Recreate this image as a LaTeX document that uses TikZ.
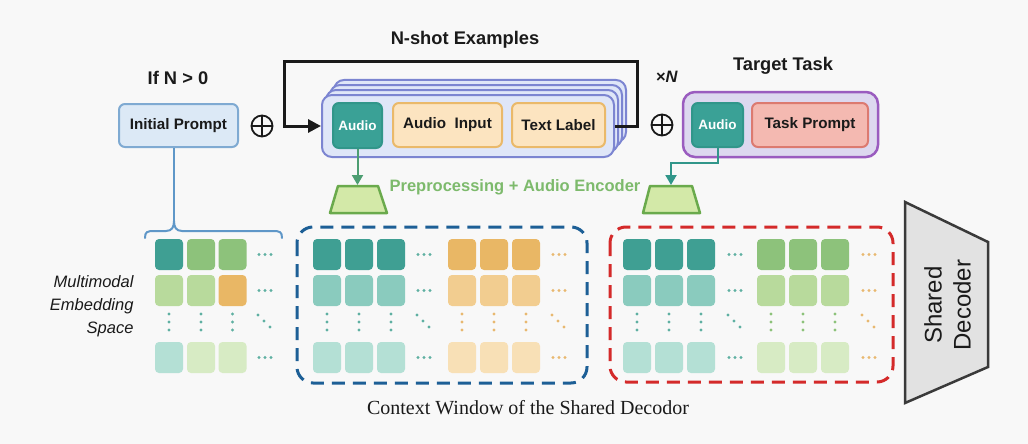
\documentclass[tikz,border=0pt]{standalone}
\usepackage{fontspec}
\setmainfont{Liberation Sans}
\newfontfamily\serifont{Liberation Serif}
\usetikzlibrary{arrows.meta}
\definecolor{bgc}{HTML}{F8F8F8}
\definecolor{ipfill}{HTML}{DCE9F6}
\definecolor{ipdraw}{HTML}{7FAAD2}
\definecolor{stfill}{HTML}{DFE6F8}
\definecolor{stdraw}{HTML}{7C85D1}
\definecolor{teal}{HTML}{3AA196}
\definecolor{tealdraw}{HTML}{31968A}
\definecolor{orfill}{HTML}{FCE4C0}
\definecolor{ordraw}{HTML}{EAB96A}
\definecolor{tgfill}{HTML}{DDD8EF}
\definecolor{tgdraw}{HTML}{9A5CBF}
\definecolor{tpfill}{HTML}{F4B9B1}
\definecolor{tpdraw}{HTML}{DC7A70}
\definecolor{encfill}{HTML}{D3E9A8}
\definecolor{encdraw}{HTML}{6AAA4C}
\definecolor{encarrow}{HTML}{4D9E72}
\definecolor{enctext}{HTML}{7DBA6C}
\definecolor{bracec}{HTML}{5F97C8}
\definecolor{bluedash}{HTML}{1D5F96}
\definecolor{reddash}{HTML}{D42A2A}
\definecolor{tA}{HTML}{3F9F93}
\definecolor{tB}{HTML}{8ACBBE}
\definecolor{tC}{HTML}{B4E0D5}
\definecolor{oA}{HTML}{E9B765}
\definecolor{oB}{HTML}{F2CD90}
\definecolor{oC}{HTML}{F8E0B6}
\definecolor{gA}{HTML}{8DC27B}
\definecolor{gB}{HTML}{B8DA9C}
\definecolor{gC}{HTML}{D7EBC4}
\definecolor{tdot}{HTML}{5FB0A2}
\definecolor{odot}{HTML}{E8B870}
\definecolor{gdot}{HTML}{8CC27A}
\definecolor{decfill}{HTML}{E2E2E2}
\definecolor{decdraw}{HTML}{3A3A3A}
\definecolor{txt}{HTML}{1A1A1A}
\newcommand\hdts[3]{\foreach \dx in {-6,0,6} \fill[#3] ({#1+\dx},#2) circle (1.7pt);}
\newcommand\vdts[2]{\foreach \dy in {314,322,330} \fill[#2] (#1,\dy) circle (1.7pt);}
\newcommand\ddts[2]{\foreach \dd in {-6,0,6} \fill[#2] ({#1+\dd},{321+\dd}) circle (1.7pt);}
\begin{document}
\begin{tikzpicture}[x=1pt,y=-1pt,
  box/.style={draw, line width=2pt, rounded corners=6pt, inner sep=0pt, align=center},
  audiobox/.style={box, fill=teal, draw=tealdraw, text=white, font=\fontsize{13.5}{15}\selectfont\bfseries},
  lbl/.style={font=\fontsize{15.2}{18}\selectfont\bfseries, text=txt},
  head/.style={font=\fontsize{18.3}{22}\selectfont\bfseries, text=txt},
  cell/.style={rounded corners=4pt, minimum width=28pt, minimum height=31pt, inner sep=0pt},
  oplus/.style={circle, draw=txt, line width=1.8pt, minimum size=21pt, inner sep=0pt},
  encarr/.style={draw=encarrow, line width=2pt, -{Triangle[length=10pt,width=11pt]}},
  enc/.style={fill=encfill, draw=encdraw, line width=2.5pt, line join=round},
  dashbox/.style={line width=3pt, dash pattern=on 13pt off 8pt, rounded corners=16pt}]
\fill[bgc] (0,0) rectangle (1028,444);
\useasboundingbox (0,0) rectangle (1028,444);

% headings
\node[head] (ifn) at (178,78) {If N > 0};
\node[head] (nshot) at (465,40) {N-shot Examples};
\node[head] (tgt) at (783,66) {Target Task};
\node[font=\fontsize{16.5}{20}\selectfont\bfseries, text=txt] (xn) at (667,77) {×\textit{N}};

% initial prompt
\node[box, fill=ipfill, draw=ipdraw, minimum width=119pt, minimum height=43pt, lbl] (ip) at (178.5,125.5) {Initial Prompt};
\node[oplus] (p1) at (262,126) {};
\draw[txt, line width=1.8pt] (p1.north) -- (p1.south) (p1.west) -- (p1.east);

% stacked examples
\foreach \k in {3,2,1}{
  \node[box, fill=stfill, draw=stdraw, rounded corners=10pt, minimum width=292pt, minimum height=62pt] (sb\k) at ({468+4*\k},{126-5*\k}) {};
}
\node[box, fill=stfill, draw=stdraw, rounded corners=10pt, minimum width=292pt, minimum height=62pt] (front) at (468,126) {};
\node[audiobox, minimum width=49pt, minimum height=45pt] (au1) at (357.5,125.5) {Audio};
\node[box, fill=orfill, draw=ordraw, minimum width=109pt, minimum height=44pt, lbl] (ain) at (447.5,125) {Audio\ \ Input};
\node[box, fill=orfill, draw=ordraw, minimum width=93pt, minimum height=44pt, lbl] (tl) at (558.5,125) {Text Label};

% loop arrow
\draw[txt, line width=3pt, line join=miter, -{Triangle[length=13pt,width=13pt]}]
  (front.east) -- ++(22,0) |- (284,62) |- (front.west);

% second oplus
\node[oplus] (p2) at (662,125) {};
\draw[txt, line width=1.8pt] (p2.north) -- (p2.south) (p2.west) -- (p2.east);

% target task
\node[box, fill=tgfill, draw=tgdraw, line width=2.5pt, rounded corners=12pt, minimum width=195pt, minimum height=65pt] (tbox) at (780.5,124.5) {};
\node[audiobox, minimum width=51pt, minimum height=44pt] (au2) at (717.5,125) {Audio};
\node[box, fill=tpfill, draw=tpdraw, minimum width=116pt, minimum height=44pt, lbl] (tp) at (810,125) {Task Prompt};

% encoders
\draw[enc] (330,213) -- (338,186) -- (378,186) -- (387,213) -- cycle;
\coordinate (enc1) at (357.5,185);
\draw[enc] (643,213) -- (650,186) -- (692,186) -- (700,213) -- cycle;
\coordinate (enc2) at (671,185);
\draw[encarr] (au1.south) -- (au1.south |- enc1);
\draw[encarr, draw=tealdraw] (au2.south) -- ++(0,15) -| (enc2);
\node[font=\fontsize{16.5}{20}\selectfont\bfseries, text=enctext] (pre) at (515,187) {Preprocessing + Audio Encoder};

% brace from initial prompt
\coordinate (bt) at (174,221);
\draw[bracec, line width=2pt] (ip.south -| bt) -- (bt);
\draw[bracec, line width=2pt, line cap=round]
  (145,238) .. controls (145,232) and (147,231) .. (154,231) -- (166,231)
  .. controls (172,231) and (174,227) .. (bt)
  .. controls (174,227) and (176,231) .. (182,231) -- (273,231)
  .. controls (280,231) and (282,232) .. (282,238);

% multimodal label
\node[anchor=east, align=right, font=\fontsize{16.5}{23}\selectfont\itshape, text=txt] (mm) at (137,306) {Multimodal\\Embedding\\Space};

% left grid
\foreach \x/\y/\cl in {169/254.5/tA, 201/254.5/gA, 232.5/254.5/gA,
                       169/290.5/gB, 201/290.5/gB, 232.5/290.5/oA,
                       169/357.5/tC, 201/357.5/gC, 232.5/357.5/gC}
  \node[cell, fill=\cl] at (\x,\y) {};
\hdts{265}{254.5}{tdot}\hdts{265}{290.5}{tdot}\hdts{265}{357.5}{tdot}
\vdts{169}{tdot}\vdts{201}{tdot}\vdts{232.5}{tdot}\ddts{264}{tdot}

% blue context window
\draw[dashbox, draw=bluedash] (297,227) rectangle (587,383);
\foreach \y/\a/\b in {254.5/tA/oA, 290.5/tB/oB, 357.5/tC/oC}{
  \foreach \x in {327,359,391} \node[cell, fill=\a] at (\x,\y) {};
  \foreach \x in {462,494,526} \node[cell, fill=\b] at (\x,\y) {};
}
\hdts{424}{254.5}{tdot}\hdts{424}{290.5}{tdot}\hdts{424}{357.5}{tdot}
\hdts{559}{254.5}{odot}\hdts{559}{290.5}{odot}\hdts{559}{357.5}{odot}
\vdts{327}{tdot}\vdts{359}{tdot}\vdts{391}{tdot}\ddts{423}{tdot}
\vdts{462}{odot}\vdts{494}{odot}\vdts{526}{odot}\ddts{558}{odot}

% red target window
\draw[dashbox, draw=reddash] (610,227) rectangle (893,382);
\foreach \y/\a/\b in {254.5/tA/gA, 290.5/tB/gB, 357.5/tC/gC}{
  \foreach \x in {637,669,701} \node[cell, fill=\a] at (\x,\y) {};
  \foreach \x in {771,803,835} \node[cell, fill=\b] at (\x,\y) {};
}
\hdts{735}{254.5}{tdot}\hdts{735}{290.5}{tdot}\hdts{735}{357.5}{tdot}
\hdts{869}{254.5}{odot}\hdts{869}{290.5}{odot}\hdts{869}{357.5}{odot}
\vdts{637}{tdot}\vdts{669}{tdot}\vdts{701}{tdot}\ddts{734}{tdot}
\vdts{771}{gdot}\vdts{803}{gdot}\vdts{835}{gdot}\ddts{868}{odot}

% caption
\node[font=\serifont\fontsize{20}{24}\selectfont, text=txt] (cap) at (528,408) {Context Window of the Shared Decodor};

% shared decoder
\draw[fill=decfill, draw=decdraw, line width=2.5pt, line join=miter] (905,202) -- (988,242) -- (988,367) -- (905,403) -- cycle;
\node[rotate=90, align=center, font=\fontsize{24}{29}\selectfont, text=txt] (dec) at (947.5,305) {Shared\\Decoder};
\end{tikzpicture}
\end{document}
